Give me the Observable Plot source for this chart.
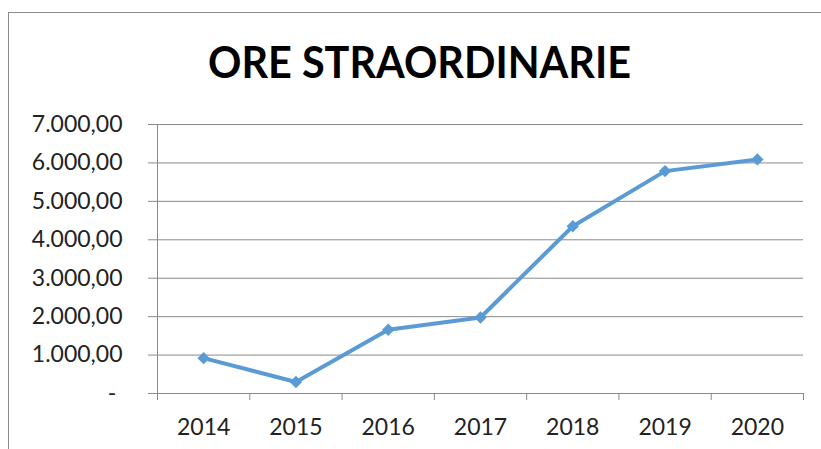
<!DOCTYPE html>
<html><head><meta charset="utf-8">
<script src="https://cdn.jsdelivr.net/npm/d3@7"></script>
<script src="https://cdn.jsdelivr.net/npm/@observablehq/plot@0.6"></script>
<style>
html,body{margin:0;padding:0;background:#fff;}
#wrap{position:relative;width:821px;height:449px;overflow:hidden;font-family:Lato,sans-serif;}
#frame{position:absolute;left:8px;top:12px;width:900px;height:600px;border-top:1px solid #8c8c8c;border-left:1px solid #8c8c8c;}
#title{position:absolute;left:0;top:0;}
#chart{position:absolute;left:0;top:100px;}
</style></head><body>
<div id="wrap"><div id="frame"></div><div id="title"></div><div id="chart"></div></div>
<script>
const title = "ORE STRAORDINARIE";
const years = ["2014", "2015", "2016", "2017", "2018", "2019", "2020"];
const values = [920, 300, 1657, 1978, 4352, 5787, 6092];
const yTicks = [0, 1000, 2000, 3000, 4000, 5000, 6000, 7000];

const data = years.map((y, i) => ({year: y, pos: i + 0.5, value: values[i]}));
const centers = data.map(d => d.pos);
const bounds = d3.range(0, years.length + 1);

const loc = d3.formatLocale({decimal: ",", thousands: ".", grouping: [3], currency: ["", ""]});
const f2 = loc.format(",.2f");
const fmtY = v => v === 0 ? "-\u2008\u200A" : f2(v);

// Title
const tsvg = d3.create("svg").attr("width", 821).attr("height", 100);
tsvg.append("text")
  .attr("x", 208).attr("y", 78)
  .attr("font-family", "Lato, sans-serif").attr("font-weight", 700).attr("font-size", 44)
  .attr("textLength", 423).attr("lengthAdjust", "spacingAndGlyphs")
  .attr("fill", "#000")
  .text(title);
document.getElementById("title").appendChild(tsvg.node());

const grid = "#8a8a8a";
const plot = Plot.plot({
  width: 821, height: 349,
  marginLeft: 157, marginRight: 18, marginTop: 24, marginBottom: 56,
  style: {fontFamily: "Lato, sans-serif", fontSize: "23px", background: "transparent", color: grid},
  x: {type: "linear", domain: [0, years.length]},
  y: {domain: [0, 7000]},
  marks: [
    Plot.gridY(yTicks, {stroke: grid, strokeOpacity: 1}),
    Plot.axisY({ticks: yTicks, tickSize: 9, tickPadding: 26, tickFormat: fmtY, stroke: grid, strokeOpacity: 1, fill: "#222", label: null}),
    Plot.ruleX([0], {stroke: grid}),
    Plot.axisX({ticks: bounds, tickSize: 7, tickFormat: () => "", stroke: grid, strokeOpacity: 1, label: null}),
    Plot.axisX({ticks: centers, tickSize: 0, tickPadding: 25, tickFormat: d => years[Math.round(d - 0.5)], fill: "#222", label: null}),
    Plot.line(data, {x: "pos", y: "value", stroke: "#5B9BD5", strokeWidth: 4}),
    Plot.dot(data, {x: "pos", y: "value", symbol: "diamond2", r: 5.6, fill: "#5B9BD5", stroke: "none"})
  ]
});
document.getElementById("chart").appendChild(plot);
</script>
</body></html>
